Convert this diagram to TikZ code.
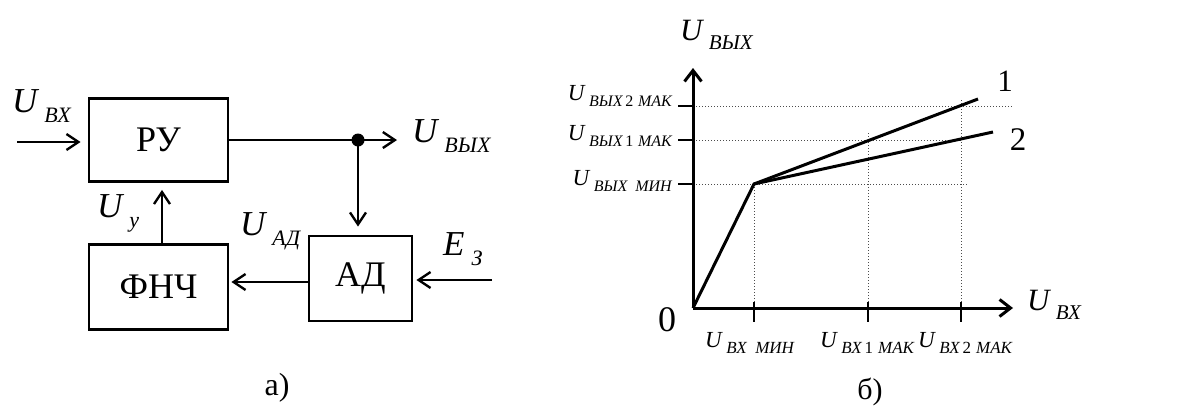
\documentclass[tikz,border=0pt]{standalone}
\usepackage{fontspec}
\setmainfont{Liberation Serif}
\usetikzlibrary{arrows.meta,positioning}
% letter with a lowered subscript: size, subscript size, letter, subscript
\newcommand{\volt}[4]{{\fontsize{#1}{#1}\selectfont\itshape #3\hspace{0.2em}\raisebox{-0.3em}{\fontsize{#2}{#2}\selectfont #4}}}

\begin{document}
\begin{tikzpicture}[x=1pt, y=-1pt,
  node distance=60pt,
  block/.style={draw, line width=2.8pt, minimum width=139pt, minimum height=83pt,
    inner sep=0pt, font=\fontsize{36}{36}\selectfont},
  arrow/.style={-{Straight Barb[length=12pt,width=16pt]}, line width=2.4pt},
  axis/.style={-{Straight Barb[length=11pt,width=17pt]}, line width=3pt},
  curve/.style={line width=3pt},
  guide/.style={dotted, line width=1pt, gray!60!black},
  tickmark/.style={line width=1.8pt},
  lbl/.style={inner sep=0pt},
]
  \useasboundingbox (0,0) rectangle (1180,410);

  % a) block diagram
  \node[block] (ru) at (158.5,140) {РУ};
  \node[block, below=of ru, minimum height=85pt] (fnch) {ФНЧ};
  \node[block, minimum width=103pt, minimum height=85pt] (ad) at (360.5,278.5) {АД};

  \coordinate (in) at (17,142);
  \coordinate (dot) at (358,140);
  \coordinate (out) at (397,140);
  \coordinate (e3) at (492,280);

  \draw[arrow, shorten >=7pt] (in) -- (in -| ru.west);
  \draw[line width=2.4pt] (ru.east) -- (dot);
  \draw[arrow] (dot) -- (out);
  \fill (dot) circle (6.5pt);
  \draw[arrow, shorten >=8pt] (dot) -- (dot |- ad.north);
  \draw[arrow, shorten >=3pt] (e3) -- (e3 -| ad.east);
  \draw[arrow, shorten >=2pt] (ad.west |- 0,282) -- (fnch.east |- 0,282);
  \draw[arrow, shorten >=7pt] ([xshift=3.5pt]fnch.north) -- ([xshift=3.5pt]ru.south);

  \node[lbl, anchor=base west] (uin) at (12,112) {\volt{35}{22}{U}{ВХ}};
  \node[lbl, anchor=base west] (uout) at (412,142) {\volt{35}{22}{U}{ВЫХ}};
  \node[lbl, anchor=base west] (uy) at (97,217) {\volt{35}{22}{U}{у}};
  \node[lbl, anchor=base west] (uad) at (240,235) {\volt{35}{22}{U}{АД}};
  \node[lbl, anchor=base west] (ez) at (443,255) {\volt{35}{22}{E}{З}};
  \node[lbl, font=\fontsize{32}{32}\selectfont] (capa) at (277,388) {а)};

  % b) transfer characteristic
  \coordinate (o) at (693,308);
  \coordinate (knee) at (754,184);

  % guide lines
  \draw[guide] (693,106) -- (1012,106);
  \draw[guide] (693,140) -- (962,140);
  \draw[guide] (693,184) -- (967,184);
  \draw[guide] (754,184) -- (754,308);
  \draw[guide] (868,133) -- (868,308);
  \draw[guide] (961,100) -- (961,308);

  % ticks
  \foreach \yy in {106,140,184}
    \draw[tickmark] (678,\yy) -- (693,\yy);
  \foreach \xx in {754,868,961}
    \draw[tickmark] (\xx,302) -- (\xx,322);

  % axes
  \draw[axis] (o) -- (693,68);
  \draw[axis] (o) -- (1013,308);

  % characteristics
  \draw[curve] (o) -- (knee) -- (978,99);
  \draw[curve] (knee) -- (993,132);

  \node[lbl, anchor=base west] (uyax) at (680,40) {\volt{31}{21}{U}{ВЫХ}};
  \node[lbl, anchor=base west] (uxax) at (1027,310) {\volt{31}{21}{U}{ВХ}};
  \node[lbl, font=\fontsize{36}{36}\selectfont] (zero) at (667,320) {0};
  \node[lbl, font=\fontsize{31}{31}\selectfont] (one) at (1005,81) {1};
  \node[lbl, font=\fontsize{33}{33}\selectfont] (two) at (1018,140) {2};

  \node[lbl, anchor=base east] (ymax2) at (672,100) {\volt{23}{16}{U}{ВЫХ\,{\upshape 2}\hspace{0.3em}МАК}};
  \node[lbl, anchor=base east] (ymax1) at (672,140) {\volt{23}{16}{U}{ВЫХ\,{\upshape 1}\hspace{0.3em}МАК}};
  \node[lbl, anchor=base east] (ymin) at (672,185) {\volt{23}{16}{U}{ВЫХ\hspace{0.5em}МИН}};

  \node[lbl, anchor=base west] (xmin) at (705,347) {\volt{23}{17}{U}{ВХ\hspace{0.5em}МИН}};
  \node[lbl, anchor=base west] (xmax1) at (820,347) {\volt{23}{17}{U}{ВХ\,{\upshape 1}\hspace{0.3em}МАК}};
  \node[lbl, anchor=base west] (xmax2) at (918,347) {\volt{23}{17}{U}{ВХ\,{\upshape 2}\hspace{0.3em}МАК}};

  \node[lbl, font=\fontsize{30}{30}\selectfont] (capb) at (870,392) {б)};
\end{tikzpicture}
\end{document}
